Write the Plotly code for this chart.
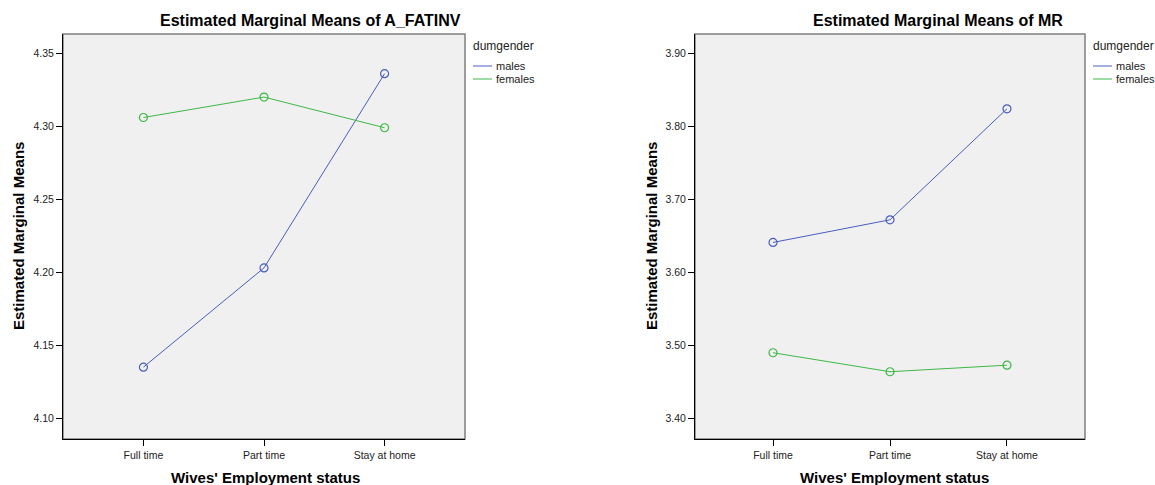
import plotly.graph_objects as go

categories = ["Full time", "Part time", "Stay at home"]
groups = ["males", "females"]
fatinv_males = [4.135, 4.203, 4.336]
fatinv_females = [4.306, 4.320, 4.299]
mr_males = [3.641, 3.672, 3.824]
mr_females = [3.490, 3.464, 3.473]

left_ticks = [4.10, 4.15, 4.20, 4.25, 4.30, 4.35]
right_ticks = [3.40, 3.50, 3.60, 3.70, 3.80, 3.90]

W, H = 1155, 485
def px(x):
    return x / W
def py(y):
    return 1 - y / H

BLUE = "#4A5EC0"
GREEN = "#3DB846"
FONT = "Liberation Sans, Arial, sans-serif"

fig = go.Figure()
idx = list(range(len(categories)))

def add_series(vals, color, name, xa, ya):
    fig.add_trace(go.Scatter(
        x=idx, y=vals, mode="lines+markers", name=name,
        line=dict(color=color, width=1),
        marker=dict(symbol="circle-open", size=8, color=color, line=dict(width=1.2, color=color)),
        xaxis=xa, yaxis=ya, showlegend=False,
    ))

add_series(fatinv_males, BLUE, groups[0], "x", "y")
add_series(fatinv_females, GREEN, groups[1], "x", "y")
add_series(mr_males, BLUE, groups[0], "x2", "y2")
add_series(mr_females, GREEN, groups[1], "x2", "y2")

ydom = [py(439), py(34)]
xcommon = dict(
    tickmode="array", tickvals=idx, ticktext=categories,
    range=[-0.667, 2.667], showgrid=False, zeroline=False,
    showline=True, linecolor="black", linewidth=1,
    ticks="outside", ticklen=6, tickcolor="black", tickwidth=1,
    tickfont=dict(family=FONT, size=10.5, color="#222"),
    fixedrange=True,
)
ycommon = dict(
    showgrid=False, zeroline=False, tickformat=".2f",
    showline=True, linecolor="black", linewidth=1,
    ticks="outside", ticklen=6, tickcolor="black", tickwidth=1,
    tickfont=dict(family=FONT, size=10.5, color="#222"),
    fixedrange=True,
)

fig.update_layout(
    width=W, height=H,
    margin=dict(l=0, r=0, t=0, b=0),
    paper_bgcolor="white", plot_bgcolor="#F0F0F0",
    showlegend=False,
    xaxis=dict(domain=[px(63), px(465)], anchor="y", **xcommon),
    yaxis=dict(domain=ydom, anchor="x", range=[4.0858, 4.3632],
               tickvals=left_ticks, **ycommon),
    xaxis2=dict(domain=[px(695), px(1085)], anchor="y2", **xcommon),
    yaxis2=dict(domain=ydom, anchor="x2", range=[3.3719, 3.9264],
                tickvals=right_ticks, **ycommon),
)

# box (top/right edges in gray)
for xr, yr in (("x domain", "y domain"), ("x2 domain", "y2 domain")):
    fig.add_shape(type="rect", xref=xr, yref=yr, x0=0, x1=1, y0=0, y1=1,
                  line=dict(color="#7F7F7F", width=1.5), layer="below")

annotations = []
def txt(x, y, text, size, bold=False, xanchor="center", angle=0, color="black"):
    annotations.append(dict(
        x=px(x), y=py(y), xref="paper", yref="paper", text=f"<b>{text}</b>" if bold else text,
        showarrow=False, xanchor=xanchor, yanchor="middle", textangle=angle,
        font=dict(family=FONT, size=size, color=color),
    ))

# titles
txt(310, 21, "Estimated Marginal Means of A_FATINV", 16, bold=True)
txt(938, 21, "Estimated Marginal Means of MR", 16, bold=True)
# axis titles
txt(265, 477, "Wives' Employment status", 15, bold=True)
txt(894, 477, "Wives' Employment status", 15, bold=True)
txt(18, 236, "Estimated Marginal Means", 15, bold=True, angle=-90)
txt(651, 236, "Estimated Marginal Means", 15, bold=True, angle=-90)

# legends
for lx in (472, 1092):
    txt(lx - 1, 46, "dumgender", 12, xanchor="left", color="#222")
    for i, (name, col) in enumerate(zip(groups, [BLUE, GREEN])):
        yy = 66 + 13 * i
        fig.add_shape(type="line", xref="paper", yref="paper",
                      x0=px(lx + 1), x1=px(lx + 20), y0=py(yy), y1=py(yy),
                      line=dict(color=col, width=1))
        txt(lx + 22, yy, name, 11, xanchor="left", color="#222")

fig.update_layout(annotations=annotations)
fig.write_html(
    "out.html",
    config={"displayModeBar": False, "staticPlot": True},
    post_script="document.body.style.margin='0';document.body.style.overflow='hidden';",
)
